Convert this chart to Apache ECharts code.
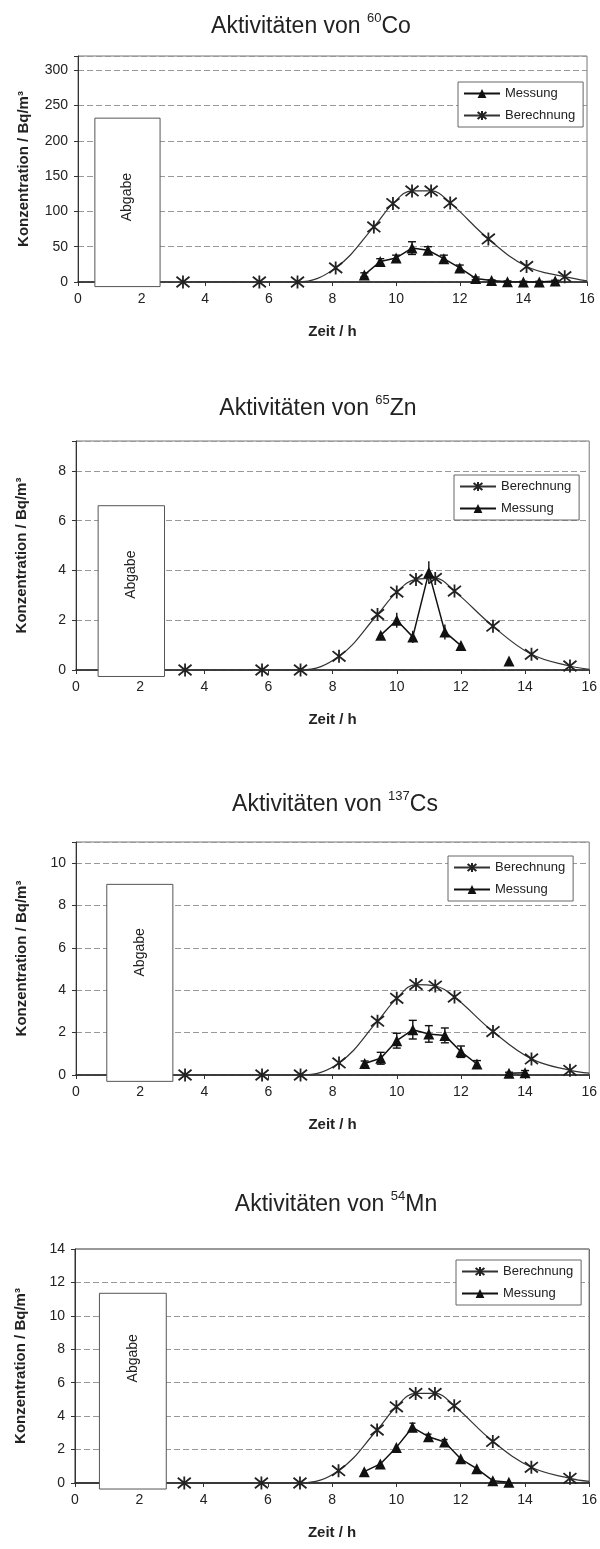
<!DOCTYPE html>
<html><head><meta charset="utf-8">
<script src="https://cdn.jsdelivr.net/npm/echarts@6/dist/echarts.min.js"></script>
<style>html,body{margin:0;padding:0;background:#fff}#c{width:600px;height:1549px}</style>
</head><body><div id="c"></div>
<script>
// ---- 60Co ----
const coCalcT = [3.3, 5.7, 6.9, 8.1, 9.3, 9.9, 10.5, 11.1, 11.7, 12.9, 14.1, 15.3, 16.0];
const coCalcV = [0, 0, 0, 20, 78, 111, 129, 129, 112, 61, 22, 7.5, 1.5];
const coMeasT = [9.0, 9.5, 10.0, 10.5, 11.0, 11.5, 12.0, 12.5, 13.0, 13.5, 14.0, 14.5, 15.0];
const coMeasV = [10, 29, 34, 48, 45, 33, 20, 5, 2, 0.5, 0, 0, 1.5];
const coMeasErr = [3, 4, 4, 9, 5, 5, 4, 2, 1, 1, 1, 1, 1];
const coAbgabe = [0.53, 2.58, -6.5, 232];

// ---- 65Zn ----
const znCalcT = [3.4, 5.8, 7.0, 8.2, 9.4, 10.0, 10.6, 11.2, 11.8, 13.0, 14.2, 15.4, 16.0];
const znCalcV = [0, 0, 0, 0.55, 2.23, 3.13, 3.64, 3.68, 3.17, 1.76, 0.63, 0.16, 0.03];
const znMeasT = [9.5, 10.0, 10.5, 11.0, 11.5, 12.0, 12.5, 13.0, 13.5];
const znMeasV = [1.40, 2.0, 1.33, 3.92, 1.53, 0.98, null, null, 0.36];
const znMeasErr = [0, 0.3, 0.25, 0.45, 0.3, 0.15, 0, 0, 0];
const znAbgabe = [0.69, 2.76, -0.26, 6.6];

// ---- 137Cs ----
const csCalcT = [3.4, 5.8, 7.0, 8.2, 9.4, 10.0, 10.6, 11.2, 11.8, 13.0, 14.2, 15.4, 16.0];
const csCalcV = [0, 0, 0, 0.57, 2.54, 3.62, 4.27, 4.2, 3.68, 2.05, 0.76, 0.22, 0.09];
const csMeasT = [9.0, 9.5, 10.0, 10.5, 11.0, 11.5, 12.0, 12.5, 13.0, 13.5, 14.0];
const csMeasV = [0.54, 0.79, 1.62, 2.14, 1.94, 1.87, 1.1, 0.52, null, 0.08, 0.11];
const csMeasErr = [0.12, 0.28, 0.35, 0.44, 0.39, 0.35, 0.27, 0.16, 0, 0.05, 0.1];
const csAbgabe = [0.96, 3.02, -0.3, 9.0];

// ---- 54Mn ----
const mnCalcT = [3.4, 5.8, 7.0, 8.2, 9.4, 10.0, 10.6, 11.2, 11.8, 13.0, 14.2, 15.4, 16.0];
const mnCalcV = [0, 0, 0, 0.74, 3.17, 4.56, 5.36, 5.36, 4.62, 2.49, 0.94, 0.28, 0.1];
const mnMeasT = [9.0, 9.5, 10.0, 10.5, 11.0, 11.5, 12.0, 12.5, 13.0, 13.5];
const mnMeasV = [0.68, 1.14, 2.13, 3.33, 2.77, 2.45, 1.45, 0.86, 0.14, 0.04];
const mnMeasErr = [0, 0, 0, 0.25, 0.15, 0.15, 0, 0, 0, 0];
const mnAbgabe = [0.76, 2.84, -0.36, 11.35];

const xTicks = {min: 0, max: 16, interval: 2};
const calcName = 'Berechnung', measName = 'Messung';
const xName = 'Zeit / h', yName = 'Konzentration / Bq/m³', boxLabel = 'Abgabe';

const FONT = "'Liberation Sans', Arial, sans-serif";
const INK = '#1e1e1e';
const STAR = 'path://M1,1L9,9M9,1L1,9M5,0L5,10';

const charts = [
  {mass: '60', el: 'Co', tx: 311, ty: 25, grid: {left: 78, top: 56, width: 509, height: 226},
   yMax: 320, yInt: 50, calcT: coCalcT, calcV: coCalcV, measT: coMeasT, measV: coMeasV, err: coMeasErr,
   abg: coAbgabe, abgOff: 79, order: [measName, calcName], lg: {left: 458, top: 82}, cap: 4, border: '#777'},
  {mass: '65', el: 'Zn', tx: 318, ty: 407, grid: {left: 76, top: 441, width: 519, height: 229},
   yMax: 9.2, yInt: 2, calcT: znCalcT, calcV: znCalcV, measT: znMeasT, measV: znMeasV, err: znMeasErr,
   abg: znAbgabe, abgOff: 69, order: [calcName, measName], lg: {left: 454, top: 475}, cap: 0, border: '#777'},
  {mass: '137', el: 'Cs', tx: 335, ty: 803, grid: {left: 76, top: 842, width: 515, height: 233},
   yMax: 11, yInt: 2, calcT: csCalcT, calcV: csCalcV, measT: csMeasT, measV: csMeasV, err: csMeasErr,
   abg: csAbgabe, abgOff: 68, order: [calcName, measName], lg: {left: 448, top: 856}, cap: 4, border: '#777'},
  {mass: '54', el: 'Mn', tx: 336, ty: 1203, grid: {left: 75, top: 1249, width: 518, height: 234},
   yMax: 14, yInt: 2, calcT: mnCalcT, calcV: mnCalcV, measT: mnMeasT, measV: mnMeasV, err: mnMeasErr,
   abg: mnAbgabe, abgOff: 65, order: [calcName, measName], lg: {left: 456, top: 1260}, cap: 3, border: '#333'}
];

const option = {
  backgroundColor: '#fff', animation: false,
  grid: [], xAxis: [], yAxis: [], series: [], legend: [], graphic: []
};

charts.forEach((c, i) => {
  option.graphic.push({
    type: 'text', x: c.tx, y: c.ty,
    style: {
      text: '{a|Aktivitäten von }{s|' + c.mass + '}{a|' + c.el + '}',
      align: 'center', verticalAlign: 'middle',
      rich: {
        a: {fontSize: 23, fontFamily: FONT, fill: '#222', lineHeight: 26, verticalAlign: 'bottom'},
        s: {fontSize: 13, fontFamily: FONT, fill: '#222', lineHeight: 26, verticalAlign: 'top'}
      }
    }
  });
  option.grid.push(Object.assign({show: true, borderColor: c.border, borderWidth: 1, backgroundColor: 'transparent'}, c.grid));
  option.xAxis.push({
    gridIndex: i, type: 'value', min: xTicks.min, max: xTicks.max, interval: xTicks.interval,
    axisLine: {show: true, onZero: false, lineStyle: {color: INK, width: 1.5}},
    axisTick: {show: true, length: 4, lineStyle: {color: '#333'}},
    axisLabel: {fontSize: 14, color: '#222', fontFamily: FONT, margin: 10},
    splitLine: {show: false},
    name: xName, nameLocation: 'middle', nameGap: 42,
    nameTextStyle: {fontWeight: 'bold', fontSize: 15, color: '#222', fontFamily: FONT}
  });
  option.yAxis.push({
    gridIndex: i, type: 'value', min: 0, max: c.yMax, interval: c.yInt,
    axisLine: {show: true, lineStyle: {color: '#333', width: 1}},
    axisTick: {show: true, length: 4, lineStyle: {color: '#333'}},
    axisLabel: {fontSize: 14, color: '#222', fontFamily: FONT, margin: 10,
      formatter: v => (Math.abs(v / c.yInt - Math.round(v / c.yInt)) < 1e-6 ? String(Math.round(v * 10) / 10) : '')},
    splitLine: {show: true, lineStyle: {color: '#999', type: [6, 3], width: 1}},
    name: yName, nameLocation: 'middle', nameGap: 47, nameRotate: 90,
    nameTextStyle: {fontWeight: 'bold', fontSize: 15, color: '#222', fontFamily: FONT}
  });
  // release box
  option.series.push({
    type: 'custom', xAxisIndex: i, yAxisIndex: i, z: 3, silent: true,
    data: [c.abg], encode: {x: [0, 1], y: [2, 3]},
    renderItem: (params, api) => {
      const p0 = api.coord([api.value(0), api.value(3)]);
      const p1 = api.coord([api.value(1), api.value(2)]);
      return {type: 'group', children: [
        {type: 'rect', shape: {x: p0[0], y: p0[1], width: p1[0] - p0[0], height: p1[1] - p0[1]},
         style: {fill: '#fff', stroke: '#555', lineWidth: 1}},
        {type: 'text', x: (p0[0] + p1[0]) / 2, y: p0[1] + c.abgOff, rotation: Math.PI / 2,
         style: {text: boxLabel, fontSize: 14, fontFamily: FONT, fill: '#222', align: 'center', verticalAlign: 'middle'}}
      ]};
    }
  });
  // error bars
  const errData = c.measT.map((t, k) => c.measV[k] == null || !c.err[k] ? null : [t, c.measV[k] - c.err[k], c.measV[k] + c.err[k]]).filter(d => d);
  option.series.push({
    type: 'custom', xAxisIndex: i, yAxisIndex: i, z: 4, silent: true,
    data: errData, encode: {x: 0, y: [1, 2]},
    renderItem: (params, api) => {
      const x = api.value(0);
      const lo = api.coord([x, api.value(1)]), hi = api.coord([x, api.value(2)]);
      const st = {stroke: '#111', lineWidth: 1.4};
      const ch = [{type: 'line', shape: {x1: lo[0], y1: lo[1], x2: hi[0], y2: hi[1]}, style: st}];
      if (c.cap) {
        ch.push({type: 'line', shape: {x1: hi[0] - c.cap, y1: hi[1], x2: hi[0] + c.cap, y2: hi[1]}, style: st});
        ch.push({type: 'line', shape: {x1: lo[0] - c.cap, y1: lo[1], x2: lo[0] + c.cap, y2: lo[1]}, style: st});
      }
      return {type: 'group', children: ch};
    }
  });
  // calculation
  option.series.push({
    name: calcName, type: 'line', xAxisIndex: i, yAxisIndex: i, z: 5,
    smooth: 0.4, showAllSymbol: true,
    data: c.calcT.map((t, k) => k === c.calcT.length - 1 ? {value: [t, c.calcV[k]], symbol: 'none'} : [t, c.calcV[k]]),
    symbol: STAR, symbolSize: 13,
    lineStyle: {color: '#333', width: 1.2},
    itemStyle: {color: '#222', borderColor: '#222', borderWidth: 1.8}
  });
  // measurement
  option.series.push({
    name: measName, type: 'line', xAxisIndex: i, yAxisIndex: i, z: 6,
    smooth: false, showAllSymbol: true, connectNulls: false,
    data: c.measT.map((t, k) => [t, c.measV[k] == null ? '-' : c.measV[k]]),
    symbol: 'triangle', symbolSize: 11,
    lineStyle: {color: '#111', width: 1.5},
    itemStyle: {color: '#111', borderWidth: 0}
  });
  option.legend.push({
    orient: 'vertical', left: c.lg.left, top: c.lg.top, data: c.order,
    itemWidth: 36, itemHeight: 11, itemGap: 9, selectedMode: false,
    borderColor: '#666', borderWidth: 1, padding: [5, 8, 5, 5], backgroundColor: '#fff',
    textStyle: {fontSize: 13, color: '#222', fontFamily: FONT}
  });
});

const chart = echarts.init(document.getElementById('c'), null, {renderer: 'canvas'});
chart.setOption(option);
</script>
</body></html>
